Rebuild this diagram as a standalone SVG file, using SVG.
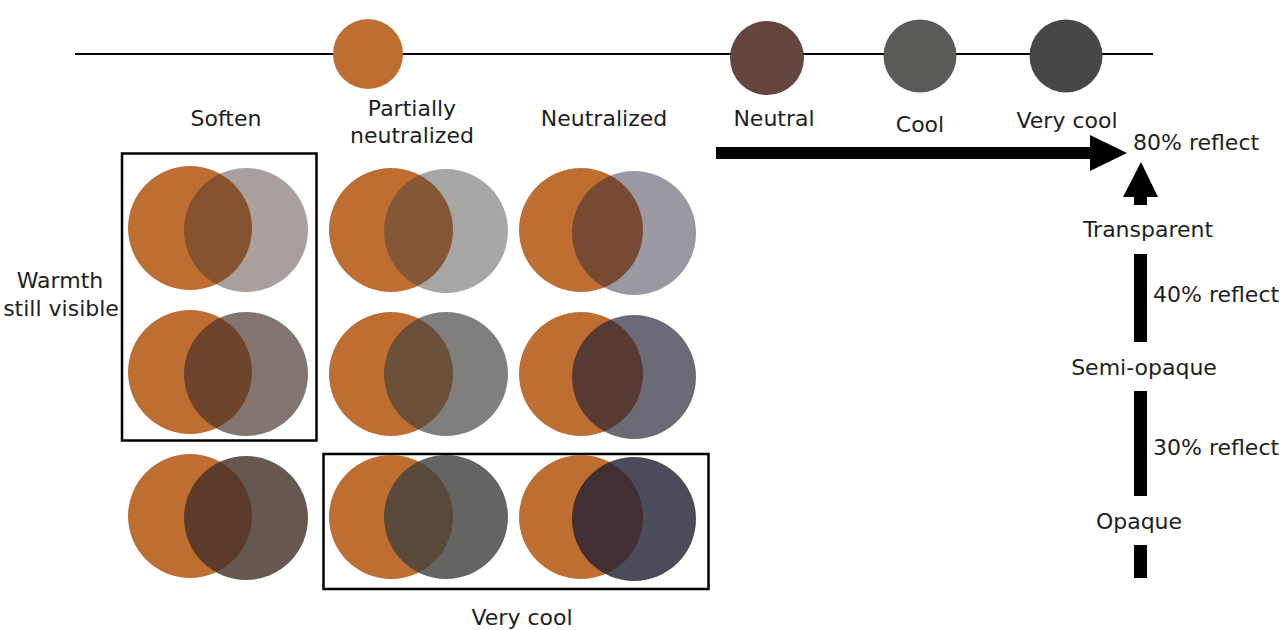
<svg xmlns="http://www.w3.org/2000/svg" width="1282" height="630" viewBox="0 0 1282 630">
<style>
  text { font-family: "DejaVu Sans", "Liberation Sans", sans-serif; font-size: 22px; fill: #1e1e1e; }
  .mid { text-anchor: middle; }
  .or { fill: #bf6e32; }
  .ga { fill: #443029; }
  .gb { fill: #40403d; }
  .gc { fill: #222134; }
  .r1 { fill-opacity: 0.46; }
  .r2 { fill-opacity: 0.67; }
  .r3 { fill-opacity: 0.81; }
  .box { fill: none; stroke: #000; stroke-width: 2.5; }
  .bar { fill: #000; }
</style>
<rect width="1282" height="630" fill="#fff"/>

<g id="connectors">
  <line x1="75" y1="54" x2="1153" y2="54" stroke="#000" stroke-width="1.8"/>
  <rect class="bar" x="716" y="147" width="376" height="12"/>
  <polygon class="bar" points="1090,135 1127,153 1090,171"/>
  <polygon class="bar" points="1141,162 1158,197 1123,197"/>
  <rect class="bar" x="1134" y="196" width="13" height="9"/>
  <rect class="bar" x="1134" y="254" width="13" height="88"/>
  <rect class="bar" x="1134" y="391" width="13" height="105"/>
  <rect class="bar" x="1134" y="545" width="13" height="33"/>
</g>

<g id="scale-warm"><circle cx="368" cy="54" r="35" class="or"/></g>
<g id="scale-neutral"><circle cx="767" cy="58" r="37" fill="#634640"/></g>
<g id="scale-cool"><circle cx="920" cy="56" r="36.5" fill="#5b5a56"/></g>
<g id="scale-verycool"><circle cx="1066" cy="56" r="36.5" fill="#484647"/></g>

<g id="labels-top">
  <text class="mid" x="226" y="126">Soften</text>
  <text class="mid" x="412" y="116">Partially</text>
  <text class="mid" x="412" y="143">neutralized</text>
  <text class="mid" x="604" y="126">Neutralized</text>
  <text class="mid" x="774" y="126">Neutral</text>
  <text class="mid" x="920" y="132">Cool</text>
  <text class="mid" x="1067" y="128">Very cool</text>
</g>

<g id="label-80"><text x="1133" y="150">80% reflect</text></g>
<g id="label-transparent"><text class="mid" x="1148" y="237">Transparent</text></g>
<g id="label-40"><text x="1153" y="302">40% reflect</text></g>
<g id="label-semiopaque"><text class="mid" x="1144" y="375">Semi-opaque</text></g>
<g id="label-30"><text x="1153" y="455">30% reflect</text></g>
<g id="label-opaque"><text class="mid" x="1139" y="529">Opaque</text></g>

<g id="label-warmth">
  <text class="mid" x="60" y="288">Warmth</text>
  <text class="mid" x="61" y="316">still visible</text>
</g>

<g id="box-soften"><rect class="box" x="122" y="153.5" width="194.5" height="287"/></g>
<g id="box-verycool"><rect class="box" x="323.5" y="454" width="385" height="135"/></g>
<g id="label-verycool-bottom"><text class="mid" x="522" y="625">Very cool</text></g>

<g id="pair-a1"><circle cx="190" cy="228" r="62" class="or"/><circle cx="246" cy="230" r="62" class="ga r1"/></g>
<g id="pair-a2"><circle cx="190" cy="372" r="62" class="or"/><circle cx="246" cy="374" r="62" class="ga r2"/></g>
<g id="pair-a3"><circle cx="190" cy="516" r="62" class="or"/><circle cx="246" cy="518" r="62" class="ga r3"/></g>

<g id="pair-b1"><circle cx="391" cy="230" r="62" class="or"/><circle cx="446" cy="231" r="62" class="gb r1"/></g>
<g id="pair-b2"><circle cx="391" cy="374" r="62" class="or"/><circle cx="446" cy="374" r="62" class="gb r2"/></g>
<g id="pair-b3"><circle cx="391" cy="517" r="62" class="or"/><circle cx="446" cy="517" r="62" class="gb r3"/></g>

<g id="pair-c1"><circle cx="581" cy="230" r="62" class="or"/><circle cx="634" cy="233" r="62" class="gc r1"/></g>
<g id="pair-c2"><circle cx="581" cy="374" r="62" class="or"/><circle cx="634" cy="377" r="62" class="gc r2"/></g>
<g id="pair-c3"><circle cx="581" cy="517" r="62" class="or"/><circle cx="634" cy="519" r="62" class="gc r3"/></g>
</svg>
